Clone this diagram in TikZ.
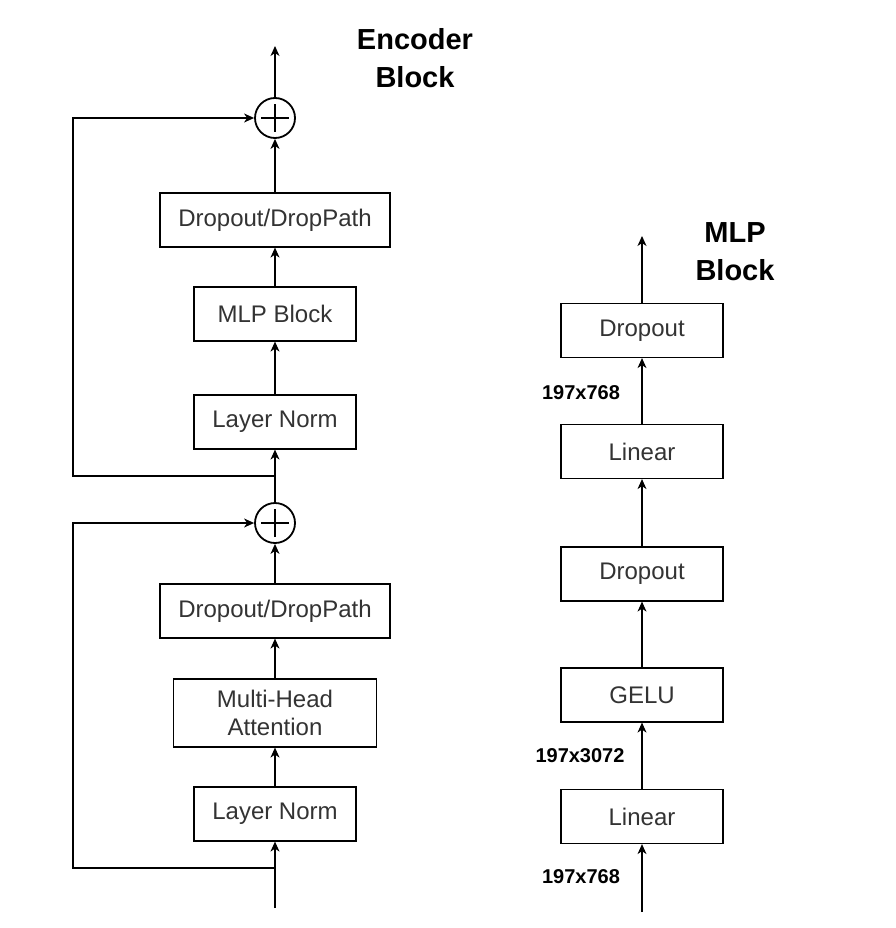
\documentclass[tikz,border=0pt]{standalone}
\usepackage{fontspec}
\setmainfont{Liberation Sans}
\usetikzlibrary{arrows.meta}
\definecolor{textgray}{HTML}{333333}

\begin{document}
\begin{tikzpicture}[x=1pt, y=-1pt,
		block_style/.style={draw=black, line width=1.2pt, fill=white, minimum width=162pt, minimum height=54pt, inner sep=0pt, align=center, text=textgray, font=\fontsize{24}{28}\selectfont},
		wide_style/.style={block_style, minimum width=230pt},
		plus_style/.style={circle, draw=black, line width=1.8pt, minimum size=40pt, inner sep=0pt,
			path picture={\draw[line width=1.8pt] (path picture bounding box.center) ++(-14pt,0pt) -- ++(28pt,0pt);
				\draw[line width=1.8pt] (path picture bounding box.center) ++(0pt,-14pt) -- ++(0pt,28pt);}},
		edge_style/.style={draw=black, line width=1.2pt, -{Stealth[length=10pt,width=9pt,inset=3pt]}},
		size_style/.style={font=\bfseries\fontsize{20}{24}\selectfont},
		title_style/.style={align=center, font=\bfseries\fontsize{29}{38}\selectfont}]
		
		\useasboundingbox (0,0) rectangle (895,928);
		
		% encoder block
		\node[plus_style] (plus1) at (275,118) {};
		\node[wide_style] (drop1) at (275,220) {Dropout/DropPath};
		\node[block_style] (mlp) at (275,314) {MLP Block};
		\node[block_style] (norm1) at (275,422) {Layer Norm};
		\node[plus_style] (plus2) at (275,523) {};
		\node[wide_style] (drop2) at (275,611) {Dropout/DropPath};
		\node[block_style, minimum width=203pt, minimum height=68pt] (mha) at (275,713) {Multi-Head\\Attention};
		\node[block_style] (norm2) at (275,814) {Layer Norm};
		
		\coordinate (enc_out) at (275,46);
		\coordinate (enc_in) at (275,908);
		\coordinate (skip1) at (275,476);
		\coordinate (skip2) at (275,868);
		\coordinate (left1) at (73,476);
		\coordinate (left2) at (73,868);
		
		\node[title_style, anchor=base] (enc_title) at (415,88) {Encoder\\Block};
		
		\draw[edge_style]  (enc_in) -- (norm2);
		\draw[edge_style]  (norm2) -- (mha);
		\draw[edge_style]  (mha) -- (drop2);
		\draw[edge_style]  (drop2) -- (plus2);
		\draw[edge_style]  (plus2) -- (norm1);
		\draw[edge_style]  (norm1) -- (mlp);
		\draw[edge_style]  (mlp) -- (drop1);
		\draw[edge_style]  (drop1) -- (plus1);
		\draw[edge_style]  (plus1) -- (enc_out);
		\draw[edge_style]  (skip2) -- (left2) |- (plus2);
		\draw[edge_style]  (skip1) -- (left1) |- (plus1);
		
		% mlp block
		\node[block_style] (mdrop1) at (642,330.5) {Dropout};
		\node[block_style] (lin2) at (642,451.5) {Linear};
		\node[block_style] (mdrop2) at (642,574) {Dropout};
		\node[block_style] (gelu) at (642,695) {GELU};
		\node[block_style] (lin1) at (642,816.5) {Linear};
		
		\coordinate (mlp_out) at (642,236);
		\coordinate (mlp_in) at (642,912);
		
		\node[size_style] (dim1) at (581,393) {197x768};
		\node[size_style] (dim2) at (580,756) {197x3072};
		\node[size_style] (dim3) at (581,877) {197x768};
		
		\node[title_style, anchor=base] (mlp_title) at (735,280) {MLP\\Block};
		
		\draw[edge_style]  (mlp_in) -- (lin1);
		\draw[edge_style]  (lin1) -- (gelu);
		\draw[edge_style]  (gelu) -- (mdrop2);
		\draw[edge_style]  (mdrop2) -- (lin2);
		\draw[edge_style]  (lin2) -- (mdrop1);
		\draw[edge_style]  (mdrop1) -- (mlp_out);
		
\end{tikzpicture}
\end{document}
